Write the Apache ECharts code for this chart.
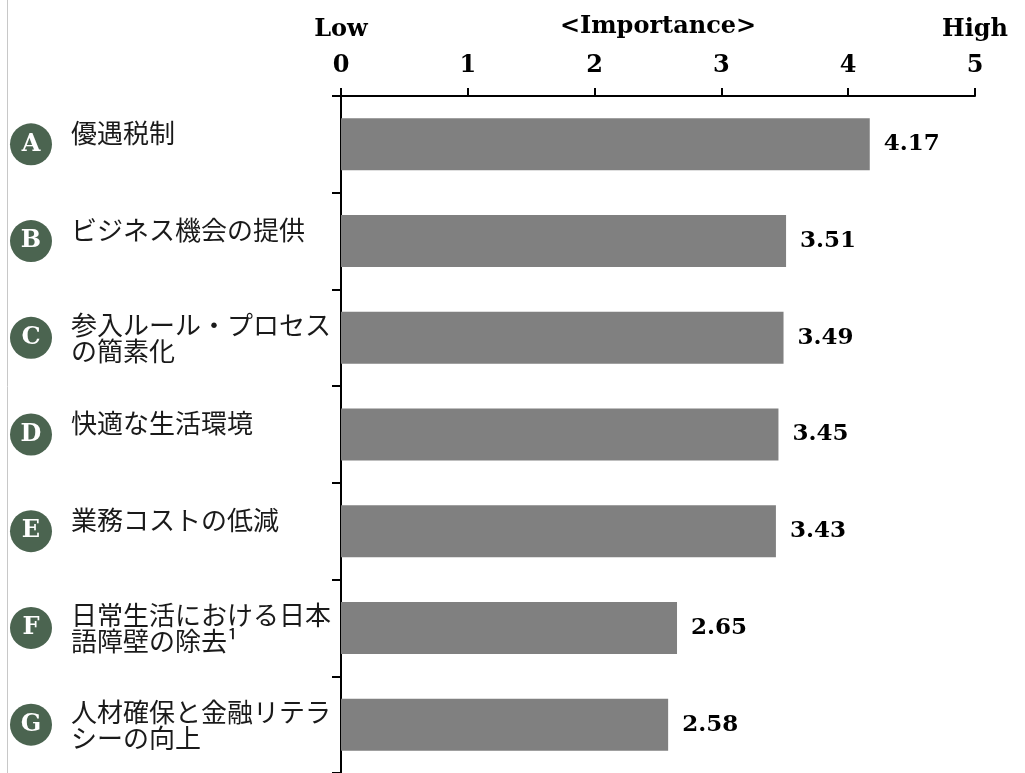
<!DOCTYPE html>
<html>
<head>
<meta charset="utf-8">
<script src="https://cdn.jsdelivr.net/npm/echarts@6/dist/echarts.min.js"></script>
<style>
  html, body { margin: 0; padding: 0; background: #fff; }
  #chart { width: 1025px; height: 773px; }
</style>
</head>
<body>
<div id="chart"></div>
<script>
// chart data
const letters = ['A', 'B', 'C', 'D', 'E', 'F', 'G']
const categories = [
  '優遇税制',
  'ビジネス機会の提供',
  '参入ルール・プロセス\nの簡素化',
  '快適な生活環境',
  '業務コストの低減',
  '日常生活における日本\n語障壁の除去¹',
  '人材確保と金融リテラ\nシーの向上'
]
const scores = [4.17, 3.51, 3.49, 3.45, 3.43, 2.65, 2.58]
const scaleEnds = ['Low', 'High']

const serif = 'DejaVu Serif'
const jp = '"Noto Sans CJK JP", "Noto Sans", sans-serif'

const chart = echarts.init(document.getElementById('chart'))

chart.setOption({
  animation: false,
  grid: {
    left: 341,
    right: 50,
    top: 96,
    bottom: 0,
    outerBoundsMode: 'none'
  },
  xAxis: [
    {
      type: 'value',
      position: 'top',
      min: 0,
      max: 5,
      interval: 1,
      axisLine: { show: true, lineStyle: { color: '#000', width: 2 } },
      axisTick: { show: true, length: 8, lineStyle: { color: '#000', width: 2 } },
      axisLabel: {
        margin: 18,
        color: '#000',
        fontFamily: serif,
        fontWeight: 'bold',
        fontSize: 24
      },
      splitLine: { show: false }
    },
    {
      type: 'value',
      position: 'top',
      min: 0,
      max: 5,
      interval: 5,
      name: '<Importance>',
      nameLocation: 'middle',
      nameGap: 57,
      nameMoveOverlap: false,
      nameTextStyle: {
        color: '#000',
        fontFamily: serif,
        fontWeight: 'bold',
        fontSize: 24
      },
      axisLine: { show: false },
      axisTick: { show: false },
      splitLine: { show: false },
      axisLabel: {
        margin: 54,
        color: '#000',
        fontFamily: serif,
        fontWeight: 'bold',
        fontSize: 24,
        formatter: (v) => (v === 0 ? scaleEnds[0] : v === 5 ? scaleEnds[1] : '')
      }
    }
  ],
  yAxis: [
    {
      type: 'category',
      inverse: true,
      data: categories,
      axisLine: { show: true, lineStyle: { color: '#000', width: 2 } },
      axisTick: { show: true, length: 9, lineStyle: { color: '#000', width: 2 } },
      axisLabel: {
        align: 'left',
        margin: 270,
        formatter: (v) => {
          if (v.indexOf('\n') >= 0) {
            return v.split('\n').map((s) => '{m|' + s + '}').join('\n')
          }
          return '{s|' + v + '}'
        },
        rich: {
          s: {
            fontFamily: jp,
            fontSize: 26,
            color: '#1a1a1a',
            padding: [0, 0, 22, 0]
          },
          m: {
            fontFamily: jp,
            fontSize: 26,
            lineHeight: 26,
            color: '#1a1a1a'
          }
        }
      }
    },
    {
      type: 'category',
      inverse: true,
      position: 'left',
      data: letters,
      axisLine: { show: false },
      axisTick: { show: false },
      axisLabel: {
        margin: 310,
        align: 'center',
        formatter: (v) => '{c|' + v + '}',
        rich: {
          c: {
            width: 42,
            height: 42,
            lineHeight: 42,
            borderRadius: 21,
            align: 'center',
            backgroundColor: '#4b6450',
            color: '#fff',
            fontFamily: serif,
            fontWeight: 'bold',
            fontSize: 24
          }
        }
      }
    }
  ],
  graphic: [
    {
      type: 'line',
      shape: { x1: 7.5, y1: 0, x2: 7.5, y2: 773 },
      style: { stroke: '#c8c8c8', lineWidth: 1 }
    }
  ],
  series: [
    {
      type: 'bar',
      data: scores,
      barWidth: 52,
      itemStyle: { color: '#808080' },
      label: {
        show: true,
        position: 'right',
        distance: 14,
        color: '#000',
        fontFamily: serif,
        fontWeight: 'bold',
        fontSize: 23,
        formatter: (p) => p.value.toFixed(2)
      }
    }
  ]
})
</script>
</body>
</html>
